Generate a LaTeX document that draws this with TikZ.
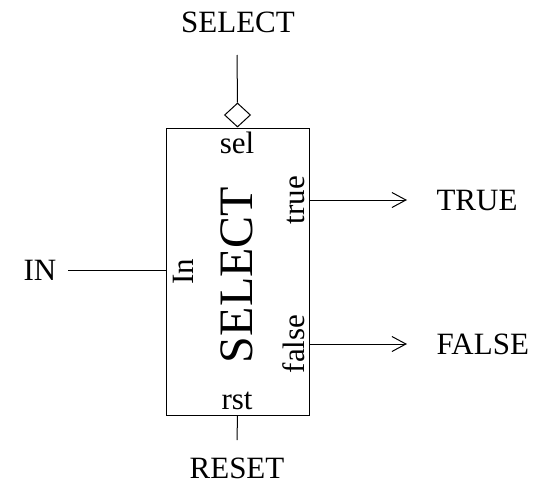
\documentclass[tikz,border=0pt]{standalone}
\usepackage{fontspec}
\setmainfont{Liberation Serif}
\usetikzlibrary{arrows.meta,positioning,shapes.geometric}

\begin{document}
\begin{tikzpicture}[x=1pt, y=-1pt, line width=1pt,
  txt/.style={font=\fontsize{31}{36}\selectfont, inner sep=0pt},
  port/.style={txt, anchor=base},
  vport/.style={txt, anchor=base, rotate=90},
  outarrow/.style={-{Straight Barb[length=14pt, width=15pt, line width=1pt]}}]
  \useasboundingbox (0,0) rectangle (533,485);

  % Block
  \node[draw, minimum width=143pt, minimum height=287pt, inner sep=0pt] (box) at (237.5,271.5) {};
  \node[draw, diamond, minimum width=26pt, minimum height=24pt, inner sep=0pt, anchor=south] (diam) at (box.north) {};
  \node[vport, font=\fontsize{48}{54}\selectfont] (title) at (252,275) {SELECT};

  % Ports
  \node[port] (sel) at (237,153) {sel};
  \node[port] (rst) at (237,409) {rst};
  \node[vport] (in) at (193,272) {In};
  \node[vport] (true) at (304,200) {true};
  \node[vport] (false) at (304,344) {false};

  % Signals
  \node[txt] (SELECT) at (238,22) {SELECT};
  \node[txt] (RESET) at (237,468) {RESET};
  \node[txt] (IN) at (40,270) {IN};
  \node[txt, anchor=west] (TRUE) at (436,200) {TRUE};
  \node[txt, anchor=west] (FALSE) at (436,344) {FALSE};

  \coordinate (selEnd) at (237,55);
  \coordinate (rstEnd) at (237,440);
  \coordinate (inEnd) at (68,270);
  \coordinate (trueEnd) at (407,200);
  \coordinate (falseEnd) at (407,344);

  \draw (selEnd) -- (diam.north);
  \draw (box.south) -- (rstEnd);
  \draw (inEnd) -- (inEnd -| box.west);
  \draw[outarrow] (trueEnd -| box.east) -- (trueEnd);
  \draw[outarrow] (falseEnd -| box.east) -- (falseEnd);

\end{tikzpicture}
\end{document}
